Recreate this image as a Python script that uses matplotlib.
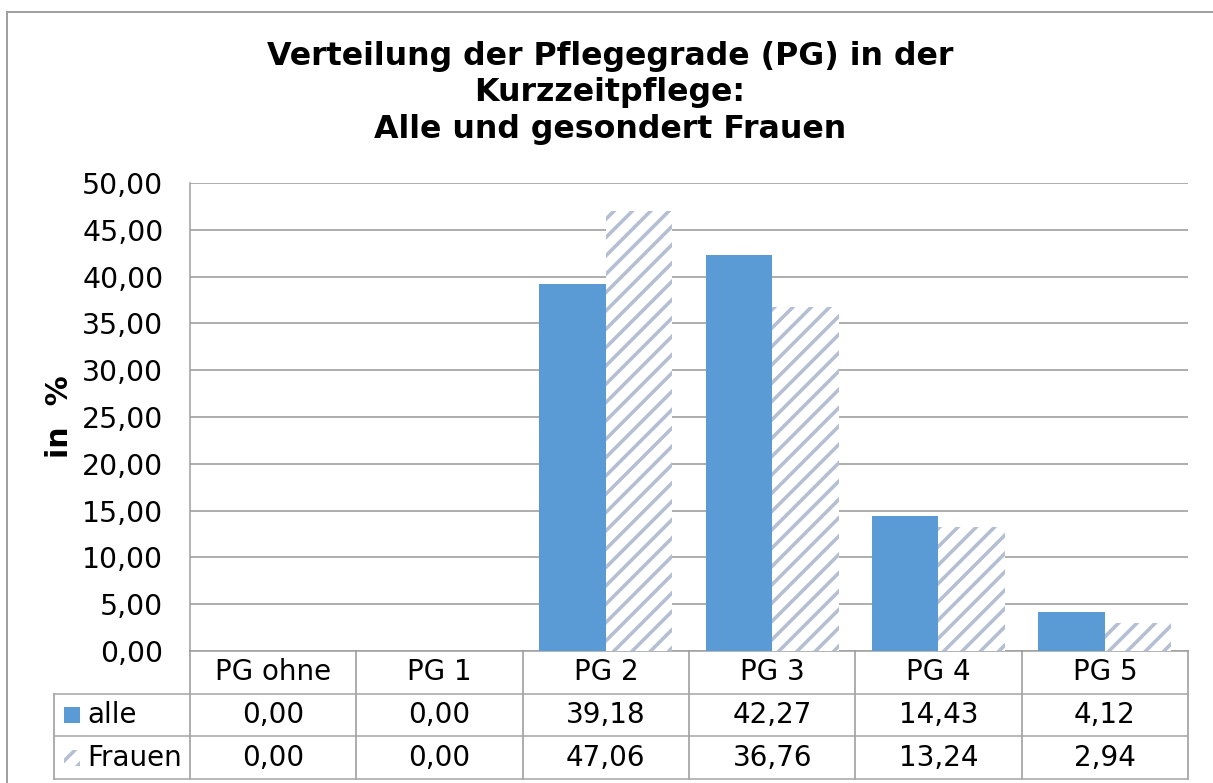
import numpy as np
import matplotlib
matplotlib.use('Agg')
import matplotlib.pyplot as plt
from matplotlib.patches import Rectangle
from matplotlib.lines import Line2D

kategorien = ['PG ohne', 'PG 1', 'PG 2', 'PG 3', 'PG 4', 'PG 5']
alle = [0.00, 0.00, 39.18, 42.27, 14.43, 4.12]
frauen = [0.00, 0.00, 47.06, 36.76, 13.24, 2.94]
serien = ['alle', 'Frauen']
titel = 'Verteilung der Pflegegrade (PG) in der\nKurzzeitpflege:\nAlle und gesondert Frauen'

W, H = 1213, 783
DPI = 110
k = 80 / DPI  # Schriftgroessen wurden fuer 80 dpi bestimmt
blau = '#5B9BD5'
schraff = '#B4BFD3'
grau = '#A0A0A0'

plt.rcParams['font.family'] = ['DejaVu Sans']
plt.rcParams['hatch.linewidth'] = 3.2 * k
plt.rcParams['hatch.color'] = schraff

def fmt(v):
    return '{:.2f}'.format(v).replace('.', ',')

fig = plt.figure(figsize=(W / DPI, H / DPI), dpi=DPI)

# Rahmen (rechts/unten abgeschnitten)
fig.add_artist(Line2D([7 / W, 7 / W], [0, 1 - 12 / H], transform=fig.transFigure, color=grau, lw=1.8 * k))
fig.add_artist(Line2D([7 / W, 1], [1 - 12 / H, 1 - 12 / H], transform=fig.transFigure, color=grau, lw=1.8 * k))

x0, x1, ytop, ybot = 190, 1188, 183, 651
ax = fig.add_axes([x0 / W, 1 - ybot / H, (x1 - x0) / W, (ybot - ytop) / H])
x = np.arange(len(kategorien))
ax.bar(x - 0.2, alle, width=0.4, color=blau, linewidth=0, zorder=3)
ax.bar(x + 0.2, frauen, width=0.4, facecolor='white', edgecolor=schraff, hatch='//', linewidth=0, zorder=3)
ax.set_xlim(-0.5, 5.5)
ax.set_ylim(0, 50)
ax.set_yticks(np.arange(0, 51, 5))
ax.set_yticklabels([fmt(v) for v in np.arange(0, 51, 5)], fontsize=25.5 * k)
ax.tick_params(axis='y', length=0, pad=24 * k)
ax.set_xticks([])
ax.yaxis.grid(True, color='#999999', lw=1.4 * k, zorder=0)
for s in ['top', 'right']:
    ax.spines[s].set_visible(False)
ax.spines['left'].set_color(grau)
ax.spines['bottom'].set_color(grau)
ax.spines['left'].set_linewidth(1.4 * k)
ax.spines['bottom'].set_linewidth(1.4 * k)

fig.text(60 / W, 1 - 417 / H, 'in  %', rotation=90, fontsize=27 * k, fontweight='bold', ha='center', va='center')
fig.text(610 / W, 1 - 93 / H, titel, fontsize=28.5 * k, fontweight='bold', ha='center', va='center',
         linespacing=1.24)

# Datentabelle
tl = 54
lw_col = (x0 - tl) / ((x1 - x0) / 6)
tax = fig.add_axes([tl / W, 1 - 779 / H, (x1 - tl) / W, (779 - ybot) / H])
tax.set_xlim(-0.5 - lw_col, 5.5)
tax.set_ylim(0, 3)
tax.axis('off')
tl_x = -0.5 - lw_col
for i in range(7):
    tax.plot([-0.5 + i, -0.5 + i], [0, 3], color='#999999', lw=1.4 * k, clip_on=False)
tax.plot([tl_x, tl_x], [0, 2], color='#999999', lw=1.4 * k, clip_on=False)
for yy in [0, 1, 2]:
    tax.plot([tl_x, 5.5], [yy, yy], color='#A6A6A6', lw=1.4 * k, clip_on=False)
for i, kat in enumerate(kategorien):
    tax.text(i, 2.5, kat, fontsize=25 * k, ha='center', va='center')
    tax.text(i, 1.5, fmt(alle[i]), fontsize=25 * k, ha='center', va='center')
    tax.text(i, 0.5, fmt(frauen[i]), fontsize=25 * k, ha='center', va='center')

sq_w = 16 / ((x1 - x0) / 6)
sq_h = 16 / 43
tax.add_patch(Rectangle((tl_x + 10 / 166.3, 1.5 - sq_h / 2), sq_w, sq_h, facecolor=blau, linewidth=0, clip_on=False))
tax.add_patch(Rectangle((tl_x + 10 / 166.3, 0.5 - sq_h / 2), sq_w, sq_h, facecolor='white', edgecolor=schraff,
                        hatch='//', linewidth=0, clip_on=False))
tax.text(tl_x + 33 / 166.3, 1.5, serien[0], fontsize=25 * k, ha='left', va='center')
tax.text(tl_x + 33 / 166.3, 0.5, serien[1], fontsize=25 * k, ha='left', va='center')

fig.savefig('out.png', dpi=DPI)
